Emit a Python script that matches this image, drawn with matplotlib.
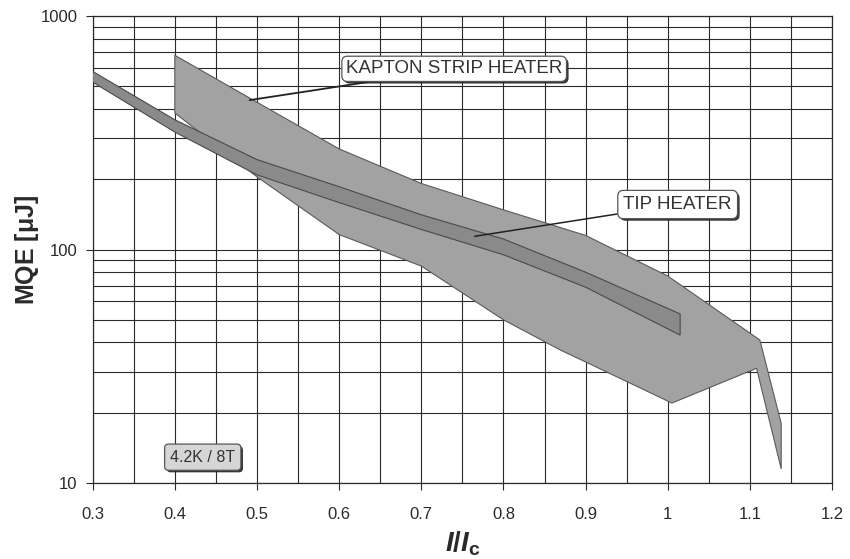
import matplotlib
matplotlib.use('Agg')
import matplotlib.pyplot as plt
import matplotlib.patheffects as pe
from matplotlib.ticker import FixedLocator, LogLocator, NullFormatter, FixedFormatter
import numpy as np

plt.rcParams.update({
    'font.family': ['Liberation Sans', 'DejaVu Sans'],
    'mathtext.fontset': 'custom',
    'mathtext.it': 'Liberation Sans:italic:bold',
    'mathtext.rm': 'Liberation Sans:bold',
    'mathtext.bf': 'Liberation Sans:bold',
})

# Kapton strip heater band: upper edge left->right, lower edge right->left
kapton_x_up = [0.40, 0.40, 0.50, 0.60, 0.70, 0.80, 0.90, 1.00, 1.112, 1.138, 1.138]
kapton_y_up = [385, 680, 428, 270, 192, 148, 115, 77, 41, 18, 11.5]
kapton_x_lo = [1.108, 1.005, 0.90, 0.87, 0.80, 0.70, 0.60, 0.50]
kapton_y_lo = [31, 22, 33, 37, 50, 85, 116, 205]

# Tip heater band
tip_x = [0.30, 0.40, 0.50, 0.60, 0.70, 0.80, 0.90, 1.015]
tip_up = [580, 360, 243, 186, 141, 111, 80, 53]
tip_lo = [522, 319, 209, 159, 122, 95, 69, 43]

x_ticks = [0.3, 0.4, 0.5, 0.6, 0.7, 0.8, 0.9, 1.0, 1.1, 1.2]
x_labels = ['0.3', '0.4', '0.5', '0.6', '0.7', '0.8', '0.9', '1', '1.1', '1.2']
y_ticks = [10, 100, 1000]
y_labels = ['10', '100', '1000']

fig = plt.figure(figsize=(8.5, 5.59), dpi=100)
ax = fig.add_axes([0.109, 0.136, 0.870, 0.835])

ax.set_yscale('log')
ax.set_xlim(0.3, 1.2)
ax.set_ylim(10, 1000)

# grid
ax.xaxis.set_major_locator(FixedLocator(x_ticks))
ax.xaxis.set_major_formatter(FixedFormatter(x_labels))
ax.xaxis.set_minor_locator(FixedLocator(np.arange(0.35, 1.2, 0.1)))
ax.yaxis.set_major_locator(FixedLocator(y_ticks))
ax.yaxis.set_major_formatter(FixedFormatter(y_labels))
ax.yaxis.set_minor_locator(LogLocator(base=10, subs=np.arange(2, 10)))
ax.yaxis.set_minor_formatter(NullFormatter())
ax.grid(True, which='both', color='#2a2a2a', lw=0.8, zorder=0)
ax.set_axisbelow(True)

# bands
kx = kapton_x_up + kapton_x_lo
ky = kapton_y_up + kapton_y_lo
ax.fill(kx, ky, fc='#a2a2a2', ec='#5a5a5a', lw=0.8, zorder=2)

tx = tip_x + tip_x[::-1]
ty = tip_up + tip_lo[::-1]
ax.fill(tx, ty, fc='#8a8a8a', ec='#4a4a4a', lw=0.8, zorder=3)

for s in ax.spines.values():
    s.set_color('#2a2a2a')
    s.set_linewidth(0.9)

ax.tick_params(axis='both', which='major', labelsize=12, colors='#2a2a2a', length=5)
ax.tick_params(axis='x', which='major', pad=12)
ax.tick_params(axis='y', which='major', pad=6)
ax.tick_params(which='minor', length=0)

ax.set_ylabel(r'MQE [$\mathrm{\mu}$J]', fontsize=18, fontweight='bold', color='#2a2a2a', va='center')
ax.yaxis.set_label_coords(-0.089, 0.5)
ax.set_xlabel(r'$I/I_{\mathrm{c}}$', fontsize=20, color='#2a2a2a', labelpad=6)

shadow = [pe.SimplePatchShadow(offset=(1.5, -1.5), shadow_rgbFace='#222222', alpha=0.9), pe.Normal()]

a1 = ax.annotate('KAPTON STRIP HEATER', xy=(0.491, 437), xytext=(0.74, 595),
                 ha='center', va='center', fontsize=13.5, color='#333333', zorder=5,
                 bbox=dict(boxstyle='round,pad=0.22,rounding_size=0.3', fc='white', ec='#555555', lw=0.9),
                 arrowprops=dict(arrowstyle='-', color='#222222', lw=1.3, shrinkA=0, shrinkB=0))
a2 = ax.annotate('TIP HEATER', xy=(0.765, 114), xytext=(1.012, 156),
                 ha='center', va='center', fontsize=13.5, color='#333333', zorder=5,
                 bbox=dict(boxstyle='round,pad=0.3,rounding_size=0.3', fc='white', ec='#555555', lw=0.9),
                 arrowprops=dict(arrowstyle='-', color='#222222', lw=1.1, shrinkA=0, shrinkB=0))
t3 = ax.text(0.434, 12.9, '4.2K / 8T', ha='center', va='center', fontsize=11.5, color='#333333', zorder=5,
             bbox=dict(boxstyle='round,pad=0.35,rounding_size=0.25', fc='#d6d6d6', ec='#555555', lw=0.9))
for t in (a1, a2, t3):
    t.get_bbox_patch().set_path_effects(shadow)

fig.savefig('out.png', dpi=100, facecolor='white')
